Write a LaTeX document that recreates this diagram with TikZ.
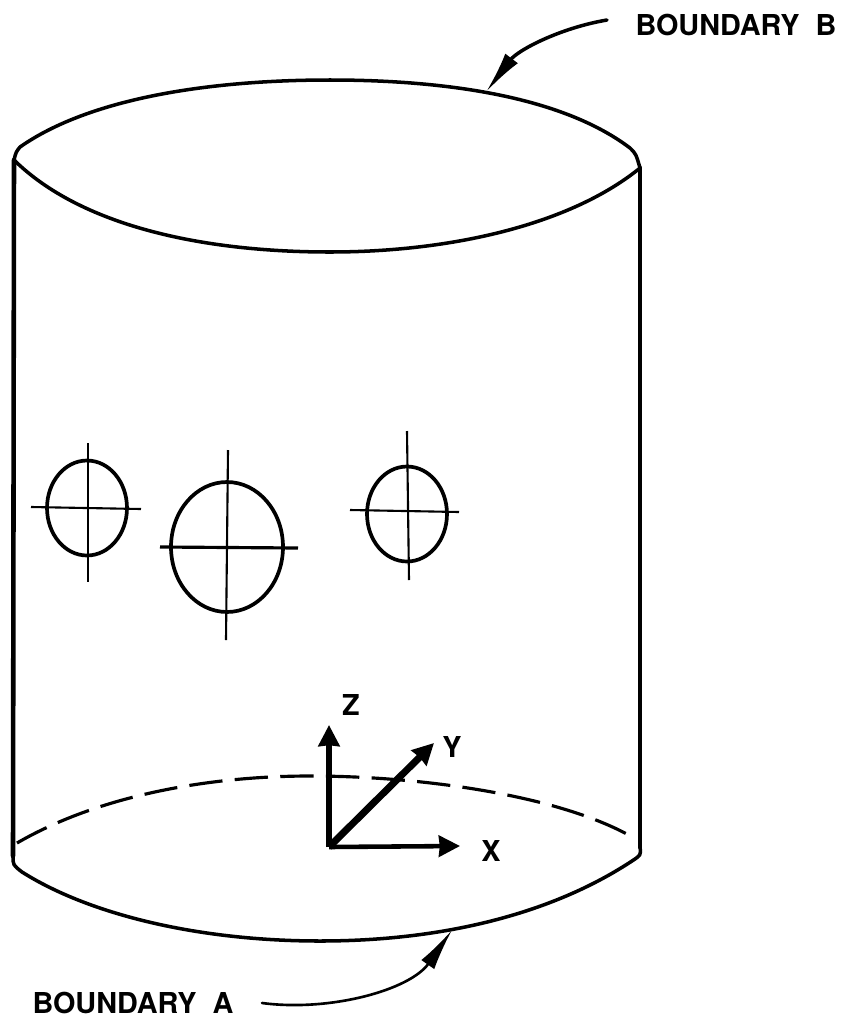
\documentclass[tikz,border=0pt]{standalone}
\usepackage{fontspec}
\setmainfont{TeX Gyre Heros}
\usetikzlibrary{arrows.meta,positioning,calc,shapes.geometric}

\begin{document}
\begin{tikzpicture}[
    x=0.02cm,
    y=-0.02cm,
    >=stealth,
    rim/.style={line width=2pt, line cap=round},
    wall/.style={line width=2.6pt, line cap=round},
    hidden/.style={line width=1.8pt, dash pattern=on 19pt off 7pt},
    port/.style={draw, line width=2.1pt, ellipse, inner sep=0pt},
    hair/.style={line width=1.2pt},
    axis/.style={line width=3pt, -{Stealth[length=12pt,width=12pt,inset=0.5pt]}},
    arr/.style={line width=2pt, line cap=round, -{Latex[length=24pt,width=9pt]}},
    lbl/.style={font=\bfseries\fontsize{16.4}{16.4}\selectfont, inner sep=0pt, anchor=center}
]
\useasboundingbox (0,0) rectangle (843,1018);

% cylinder
\coordinate (tl) at (14,160);
\coordinate (tr) at (640,168);
\coordinate (bl) at (13,856);
\coordinate (br) at (640,847);

\draw[rim] (tl) .. controls (16,152) .. (20,147) .. controls (90,98) and (210,80) .. (330,80)
    .. controls (440,80) and (560,95) .. (630,148) .. controls (636,154) .. (tr);
\draw[rim] (tl) .. controls (80,225) and (200,252) .. (330,252)
    .. controls (450,252) and (570,225) .. (tr);
\draw[wall] (tl) -- (bl);
\draw[wall] (tr) -- (br);
\draw[rim] (bl) .. controls (13,865) .. (22,872) .. controls (90,915) and (200,941) .. (320,941)
    .. controls (440,941) and (550,915) .. (632,861) .. controls (641,855) .. (br);
\draw[hidden] (17,843) .. controls (100,795) and (210,776) .. (310,776)
    .. controls (420,776) and (560,795) .. (634,838);

% holes
\node[port, minimum width=1.6cm, minimum height=1.9cm] (holea) at (87,508) {};
\node[port, minimum width=2.24cm, minimum height=2.6cm] (holeb) at (227,547) {};
\node[port, minimum width=1.6cm, minimum height=1.9cm] (holec) at (407,514) {};

\draw[hair] (31,507) -- (141,509);
\draw[hair] (88,443) -- (88,582);
\draw[hair, line width=1.8pt] (160,547) -- (298,548);
\draw[hair] (228,450) -- (226,640);
\draw[hair] (350,510) -- (459,512);
\draw[hair] (407,431) -- (409,580);

% axes
\coordinate (origin) at (329,847);
\node[lbl] (zlab) at (351,705) {Z};
\node[lbl] (ylab) at (452,747) {Y};
\node[lbl] (xlab) at (491,851) {X};
\coordinate (ztip) at (329,725);
\coordinate (ytip) at (434,743);
\coordinate (xtip) at (460,846);
\draw[axis] (origin) -- (ztip);
\draw[axis, line width=4pt] (origin) -- (ytip);
\draw[axis, line width=2.6pt] (origin) -- (xtip);

% boundary labels
\node[lbl] (bndb) at (736,25) {BOUNDARY~~B};
\node[lbl] (bnda) at (133,1003) {BOUNDARY~~A};
\coordinate (bstart) at (607,20);
\coordinate (bend) at (486,92);
\coordinate (astart) at (262,1003);
\coordinate (aend) at (452,930);

\draw[arr] (bstart) .. controls (560,28) and (518,50) .. (bend);
\draw[arr, line width=1.5pt] (astart) .. controls (330,1012) and (410,990) .. (aend);

\end{tikzpicture}
\end{document}
